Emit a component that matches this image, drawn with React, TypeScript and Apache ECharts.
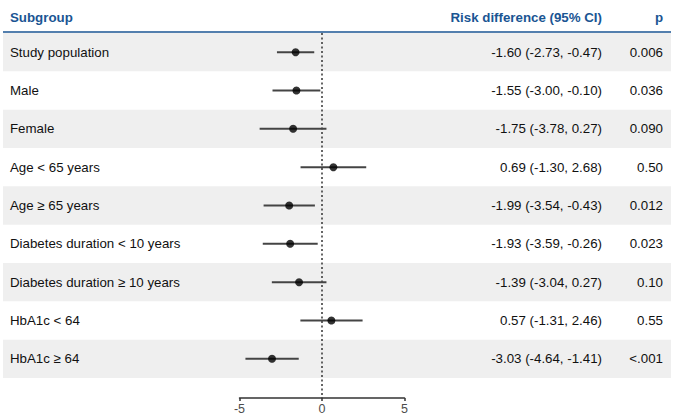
import React, { useEffect, useRef } from "react";
import * as echarts from "echarts";

const subgroups = [
  "Study population",
  "Male",
  "Female",
  "Age < 65 years",
  "Age ≥ 65 years",
  "Diabetes duration < 10 years",
  "Diabetes duration ≥ 10 years",
  "HbA1c < 64",
  "HbA1c ≥ 64",
];
const estimates = [-1.6, -1.55, -1.75, 0.69, -1.99, -1.93, -1.39, 0.57, -3.03];
const lowerCI = [-2.73, -3.0, -3.78, -1.3, -3.54, -3.59, -3.04, -1.31, -4.64];
const upperCI = [-0.47, -0.1, 0.27, 2.68, -0.43, -0.26, 0.27, 2.46, -1.41];
const pValues = ["0.006", "0.036", "0.090", "0.50", "0.012", "0.023", "0.10", "0.55", "<.001"];
const xTicks = [-5, 0, 5];

const FONT = "'Liberation Sans', Arial, Helvetica, sans-serif";
const FS = 13.3;
const BLUE = "#1a5593";
const GRID_LEFT = 239.5;
const GRID_RIGHT_X = 404.5;
const GRID_TOP = 33;
const GRID_HEIGHT = 345;
const STRIPE_LEFT = 3;
const STRIPE_RIGHT = 671;
const AXIS_OFFSET = 20;
const CI_RIGHT_X = 602;
const P_RIGHT_X = 663;

export default function App() {
  const ref = useRef<HTMLDivElement>(null);
  useEffect(() => {
    if (!ref.current) return;
    const chart = echarts.init(ref.current, undefined, { renderer: "svg" });
    const ciStrings = estimates.map(
      (e, i) => `${e.toFixed(2)} (${lowerCI[i].toFixed(2)}, ${upperCI[i].toFixed(2)})`
    );
    const idx = subgroups.map((_, i) => i);
    const baseY = {
      type: "category" as const,
      gridIndex: 0,
      inverse: true,
      z: 10,
      axisLine: { show: false },
      axisTick: { show: false },
      splitLine: { show: false },
    };
    const labelStyle = { color: "#111", fontSize: FS, fontFamily: FONT, interval: 0 };
    chart.setOption({
      animation: false,
      textStyle: { fontFamily: FONT },
      grid: [
        {
          left: GRID_LEFT,
          width: GRID_RIGHT_X - GRID_LEFT,
          top: GRID_TOP,
          height: GRID_HEIGHT,
        },
      ],
      xAxis: [
        {
          type: "value",
          min: xTicks[0],
          max: xTicks[xTicks.length - 1],
          interval: 5,
          offset: AXIS_OFFSET,
          z: 10,
          splitLine: { show: false },
          axisLine: { show: true, lineStyle: { color: "#333", width: 1.5 } },
          axisTick: { show: true, length: 3, lineStyle: { color: "#333", width: 1.5 } },
          axisLabel: { color: "#4d4d4d", fontSize: 12.5, margin: 4, fontFamily: FONT },
        },
      ],
      yAxis: [
        {
          ...baseY,
          data: subgroups,
          position: "left",
          axisLabel: { ...labelStyle, align: "left", margin: GRID_LEFT - 10 },
        },
        {
          ...baseY,
          data: ciStrings,
          position: "right",
          axisLabel: { ...labelStyle, align: "right", margin: CI_RIGHT_X - GRID_RIGHT_X },
        },
        {
          ...baseY,
          data: pValues,
          position: "right",
          axisLabel: { ...labelStyle, align: "right", margin: P_RIGHT_X - GRID_RIGHT_X },
        },
      ],
      graphic: [
        {
          type: "text",
          x: 10,
          y: 17,
          z: 10,
          style: {
            text: "Subgroup",
            fill: BLUE,
            font: `bold ${FS}px ${FONT}`,
            align: "left",
            verticalAlign: "middle",
          },
        },
        {
          type: "text",
          x: CI_RIGHT_X,
          y: 17,
          z: 10,
          style: {
            text: "Risk difference (95% CI)",
            fill: BLUE,
            font: `bold ${FS}px ${FONT}`,
            align: "right",
            verticalAlign: "middle",
          },
        },
        {
          type: "text",
          x: P_RIGHT_X,
          y: 17,
          z: 10,
          style: {
            text: "p",
            fill: BLUE,
            font: `bold ${FS}px ${FONT}`,
            align: "right",
            verticalAlign: "middle",
          },
        },
        {
          type: "line",
          z: 10,
          shape: { x1: STRIPE_LEFT, y1: 32, x2: STRIPE_RIGHT, y2: 32 },
          style: { stroke: BLUE, lineWidth: 1.5 },
        },
      ],
      series: [
        {
          type: "custom",
          name: "stripes",
          z: -10,
          silent: true,
          data: idx.map((i) => [0, i]),
          encode: { x: 0, y: 1 },
          renderItem: (params: any, api: any) => {
            const i = api.value(1);
            if (i % 2 !== 0) return null;
            const c = api.coord([0, i]);
            const h = api.size([0, 1])[1];
            return {
              type: "rect",
              shape: {
                x: STRIPE_LEFT,
                y: c[1] - h / 2,
                width: STRIPE_RIGHT - STRIPE_LEFT,
                height: h,
              },
              style: { fill: "#efefef" },
            };
          },
        },
        {
          type: "custom",
          name: "zero",
          z: 2,
          silent: true,
          data: [[0, 0]],
          encode: { x: 0, y: 1 },
          renderItem: (params: any, api: any) => {
            const cs = params.coordSys;
            const x = api.coord([0, 0])[0];
            return {
              type: "line",
              shape: { x1: x, y1: cs.y, x2: x, y2: cs.y + cs.height + AXIS_OFFSET },
              style: { stroke: "#333", lineWidth: 1.5, lineDash: [2, 2.5] },
            };
          },
        },
        {
          type: "custom",
          name: "ci",
          z: 3,
          data: idx.map((i) => [lowerCI[i], upperCI[i], i]),
          encode: { x: [0, 1], y: 2 },
          renderItem: (params: any, api: any) => {
            const a = api.coord([api.value(0), api.value(2)]);
            const b = api.coord([api.value(1), api.value(2)]);
            return {
              type: "line",
              shape: { x1: a[0], y1: a[1], x2: b[0], y2: b[1] },
              style: { stroke: "#444", lineWidth: 2 },
            };
          },
        },
        {
          type: "scatter",
          name: "estimate",
          z: 4,
          symbol: "circle",
          symbolSize: 8,
          itemStyle: { color: "#000" },
          data: idx.map((i) => [estimates[i], i]),
        },
      ],
    });
    return () => chart.dispose();
  }, []);
  return (
    <div
      ref={ref}
      style={{ position: "fixed", left: 0, top: 0, width: 682, height: 415, background: "#fff" }}
    />
  );
}
